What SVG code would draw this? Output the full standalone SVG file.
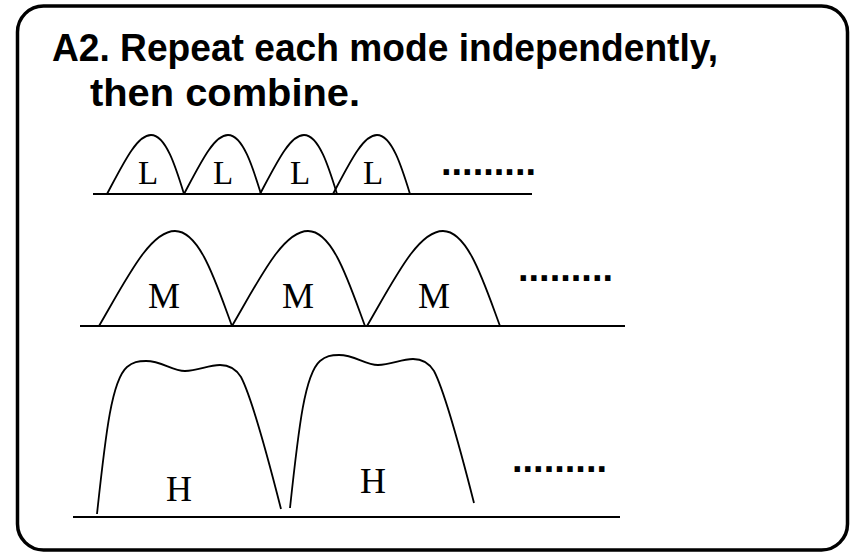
<svg xmlns="http://www.w3.org/2000/svg" width="856" height="556" viewBox="0 0 856 556">
<style>
.frame{fill:#fff;stroke:#000;stroke-width:3.5}
.title{font-family:"Liberation Sans",Arial,sans-serif;font-weight:bold;font-size:39px;fill:#000}
.lbl{font-family:"Liberation Serif","Times New Roman",serif;fill:#000}
.dots{font-family:"Liberation Sans",Arial,sans-serif;font-weight:bold;font-size:38px;fill:#000}
.axis{stroke:#000;stroke-width:2.2;fill:none}
.curve{stroke:#000;stroke-width:1.8;fill:none}
</style>
<defs>
<path id="larc" d="M107,194 C124,162 137,135 151,135 C166,135 176,168 184,194"/>
<path id="marc" d="M99,326 C127,278 150,231 175,231 C200,231 216,283 232,326"/>
<path id="harc" d="M97,514 C106,430 112,380 127,367 C133,362 138,361 146,361 C162,361 172,371 185,371 C198,371 208,365 220,365 C230,365 236,369 241,377 C252,398 266,450 281,509"/>
</defs>
<rect class="frame" x="17.5" y="6" width="830" height="544" rx="26" ry="26"/>
<g id="title">
<text class="title" x="52" y="61" textLength="666" lengthAdjust="spacingAndGlyphs">A2. Repeat each mode independently,</text>
<text class="title" x="90" y="106" textLength="270" lengthAdjust="spacingAndGlyphs">then combine.</text>
</g>
<g id="row-L">
<line class="axis" x1="93" y1="194" x2="532" y2="194"/>
<use href="#larc" class="curve"/>
<use href="#larc" class="curve" transform="translate(77,0)"/>
<use href="#larc" class="curve" transform="translate(153,0)"/>
<use href="#larc" class="curve" transform="translate(226,0)"/>
<g class="lbl" font-size="33">
<text x="138" y="184">L</text>
<text x="213" y="184">L</text>
<text x="290" y="184">L</text>
<text x="363" y="184">L</text>
</g>
<text class="dots" x="441" y="175">.........</text>
</g>
<g id="row-M">
<line class="axis" x1="80" y1="326" x2="625" y2="326"/>
<use href="#marc" class="curve"/>
<use href="#marc" class="curve" transform="translate(133,0)"/>
<use href="#marc" class="curve" transform="translate(268,0)"/>
<g class="lbl" font-size="36">
<text x="148" y="308">M</text>
<text x="282" y="308">M</text>
<text x="418" y="308">M</text>
</g>
<text class="dots" x="518" y="281">.........</text>
</g>
<g id="row-H">
<line class="axis" x1="73" y1="517" x2="620" y2="517"/>
<use href="#harc" class="curve"/>
<use href="#harc" class="curve" transform="translate(193,-6)"/>
<g class="lbl" font-size="36">
<text x="166" y="501">H</text>
<text x="360" y="493">H</text>
</g>
<text class="dots" x="512" y="472">.........</text>
</g>
</svg>
